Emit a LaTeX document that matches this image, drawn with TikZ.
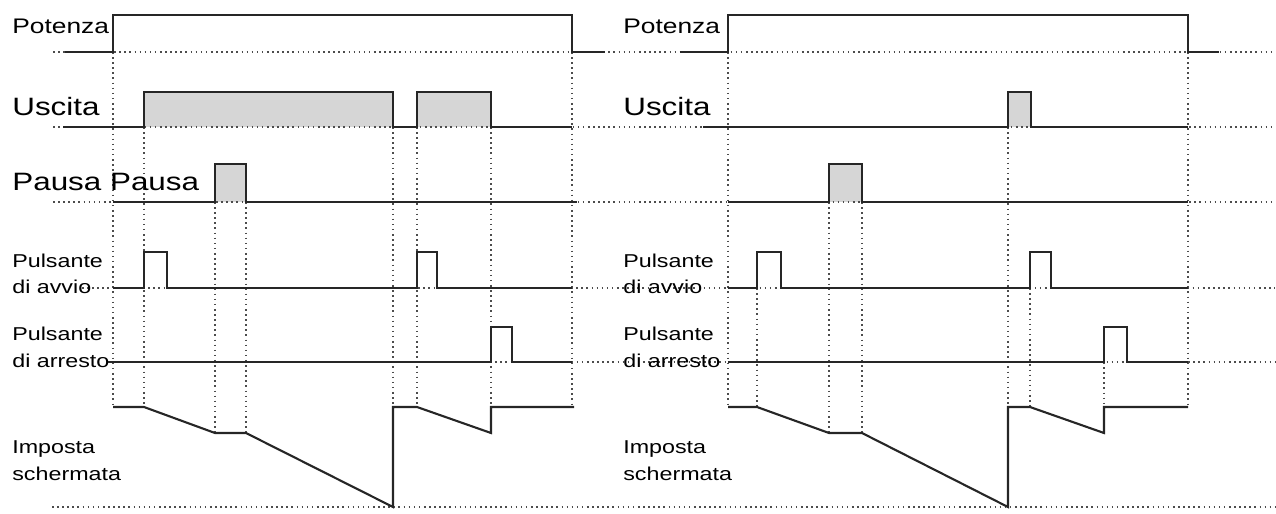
\documentclass[tikz,border=0pt]{standalone}
\usepackage{fontspec}
\setmainfont{Liberation Sans}[FakeStretch=1.25]
\usetikzlibrary{positioning}

\begin{document}
\begin{tikzpicture}[x=0.02cm, y=-0.02cm,
    sig/.style={line width=1.2pt, black!85, line join=miter},
    guide/.style={dotted, line width=0.9pt, black!70},
    shade/.style={fill=black!16, draw=none},
    lab/.style={anchor=base west, inner sep=0pt, font=\fontsize{10.6}{12}\selectfont},
    potlab/.style={anchor=base west, inner sep=0pt, font=\fontsize{12}{14}\selectfont},
    biglab/.style={anchor=base west, inner sep=0pt, font=\fontsize{14.3}{17}\selectfont}]
  \useasboundingbox (0,0) rectangle (1276,514);

  % shaded pulses
  \fill[shade] (144,92) rectangle (393,127);
  \fill[shade] (417,92) rectangle (491,127);
  \fill[shade] (215,164) rectangle (246,202);
  \fill[shade] (1008,92) rectangle (1031,127);
  \fill[shade] (829,164) rectangle (862,202);

  % Dotted baselines
  \foreach \yy/\xs in {52/53, 127/53, 202/53, 288/82, 362/108, 507/52}
    \draw[guide] (\xs,\yy) -- (1275,\yy);

  % Dotted guides, left
  \foreach \xx/\ya/\yb in {113/52/407, 144/127/407, 215/202/433, 246/202/433,
                           393/127/507, 417/127/407, 491/127/433, 572/52/407}
    \draw[guide] (\xx,\ya) -- (\xx,\yb);
  % Dotted guides, right
  \foreach \xx/\ya/\yb in {728/52/407, 757/288/407, 829/202/433, 862/202/433,
                           1008/127/507, 1030/288/407, 1104/362/433, 1188/52/407}
    \draw[guide] (\xx,\ya) -- (\xx,\yb);

  % Labels
  \node[potlab] (potL) at (12,33) {Potenza};
  \node[biglab] (uscL) at (12,115) {Uscita};
  \node[biglab] (pauL) at (12,190) {Pausa Pausa};
  \node[lab] (avvL) at (12,267) {Pulsante};
  \node[lab] (avvLb) at (12,293) {di avvio};
  \node[lab] (arrL) at (12,340) {Pulsante};
  \node[lab] (arrLb) at (12,367) {di arresto};
  \node[lab] (impL) at (12,453) {Imposta};
  \node[lab] (impLb) at (12,480) {schermata};

  \node[potlab] (potR) at (623,33) {Potenza};
  \node[biglab] (uscR) at (623,115) {Uscita};
  \node[lab] (avvR) at (623,267) {Pulsante};
  \node[lab] (avvRb) at (623,293) {di avvio};
  \node[lab] (arrR) at (623,340) {Pulsante};
  \node[lab] (arrRb) at (623,367) {di arresto};
  \node[lab] (impR) at (623,453) {Imposta};
  \node[lab] (impRb) at (623,480) {schermata};

  % Left diagram
  \draw[sig] (65,52) -- (113,52) -- (113,15) -- (572,15) -- (572,52) -- (605,52);
  \draw[sig] (63,127) -- (144,127) -- (144,92) -- (393,92) -- (393,127) -- (417,127)
    -- (417,92) -- (491,92) -- (491,127) -- (572,127);
  \draw[sig] (113,202) -- (215,202) -- (215,164) -- (246,164) -- (246,202) -- (577,202);
  \draw[sig] (113,288) -- (144,288) -- (144,252) -- (167,252) -- (167,288) -- (417,288)
    -- (417,252) -- (437,252) -- (437,288) -- (572,288);
  \draw[sig] (108,362) -- (491,362) -- (491,327) -- (512,327) -- (512,362) -- (572,362);
  \draw[sig] (113,407) -- (144,407) -- (215,433) -- (246,433) -- (393,507) -- (393,407)
    -- (417,407) -- (491,433) -- (491,407) -- (574,407);

  % Right diagram
  \draw[sig] (680,52) -- (728,52) -- (728,15) -- (1188,15) -- (1188,52) -- (1219,52);
  \draw[sig] (703,127) -- (1008,127) -- (1008,92) -- (1031,92) -- (1031,127) -- (1188,127);
  \draw[sig] (728,202) -- (829,202) -- (829,164) -- (862,164) -- (862,202) -- (1188,202);
  \draw[sig] (728,288) -- (757,288) -- (757,252) -- (781,252) -- (781,288) -- (1030,288)
    -- (1030,252) -- (1051,252) -- (1051,288) -- (1188,288);
  \draw[sig] (728,362) -- (1104,362) -- (1104,327) -- (1127,327) -- (1127,362) -- (1188,362);
  \draw[sig] (728,407) -- (757,407) -- (829,433) -- (862,433) -- (1008,507) -- (1008,407)
    -- (1030,407) -- (1104,433) -- (1104,407) -- (1188,407);
\end{tikzpicture}
\end{document}
